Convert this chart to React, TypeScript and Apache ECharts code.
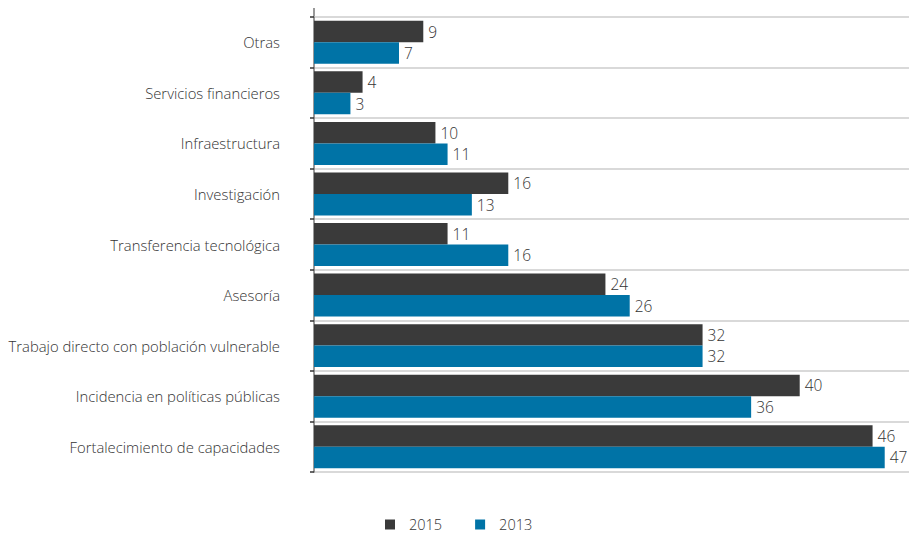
import React, { useEffect, useRef } from "react";
import * as echarts from "echarts";

const categories = [
  "Otras",
  "Servicios financieros",
  "Infraestructura",
  "Investigación",
  "Transferencia tecnológica",
  "Asesoría",
  "Trabajo directo con población vulnerable",
  "Incidencia en políticas públicas",
  "Fortalecimiento de capacidades",
];
const values2015 = [9, 4, 10, 16, 11, 24, 32, 40, 46];
const values2013 = [7, 3, 11, 13, 16, 26, 32, 36, 47];
const seriesNames = ["2015", "2013"];
const colors = ["#3a3a3a", "#0073a6"];

const FONT = "'Open Sans', sans-serif";

export default function App() {
  const ref = useRef<HTMLDivElement>(null);
  useEffect(() => {
    if (!ref.current) return;
    const chart = echarts.init(ref.current, undefined, { renderer: "svg" });
    chart.setOption({
      animation: false,
      backgroundColor: "#ffffff",
      textStyle: { fontFamily: FONT },
      grid: { left: 314, right: 2, top: 17, bottom: 63, containLabel: false },
      legend: {
        data: seriesNames,
        top: 517,
        left: 385,
        padding: 0,
        icon: "rect",
        itemWidth: 10,
        itemHeight: 10,
        itemGap: 33,
        textStyle: { fontFamily: FONT, fontSize: 14.5, fontWeight: 300, color: "#333", padding: [0, 0, 0, 9] },
      },
      xAxis: {
        type: "value",
        min: 0,
        max: 49,
        show: false,
        splitLine: { show: false },
      },
      yAxis: {
        type: "category",
        data: categories,
        inverse: true,
        axisLine: { show: true, lineStyle: { color: "#777", width: 1.5 } },
        axisTick: { show: true, length: 4, lineStyle: { color: "#333", width: 1.5 } },
        axisLabel: { margin: 34, fontFamily: FONT, fontSize: 14.8, fontWeight: 300, color: "#333" },
        splitLine: { show: true, lineStyle: { color: "#d9d9d9", width: 2 } },
      },
      series: [
        {
          name: seriesNames[0],
          type: "bar",
          data: values2015,
          barGap: "0%",
          barCategoryGap: "15%",
          itemStyle: { color: colors[0] },
          label: { show: true, position: "right", distance: 5, fontFamily: FONT, fontSize: 15.5, fontWeight: 300, color: "#333" },
        },
        {
          name: seriesNames[1],
          type: "bar",
          data: values2013,
          barGap: "0%",
          barCategoryGap: "15%",
          itemStyle: { color: colors[1] },
          label: { show: true, position: "right", distance: 5, fontFamily: FONT, fontSize: 15.5, fontWeight: 300, color: "#333" },
        },
      ],
      graphic: [
        {
          type: "line",
          shape: { x1: 314, y1: 8, x2: 314, y2: 17 },
          style: { stroke: "#777", lineWidth: 1.5 },
        },
      ],
    });
    return () => chart.dispose();
  }, []);
  return (
    <div
      ref={ref}
      style={{ position: "absolute", left: 0, top: 0, width: 911, height: 535 }}
    />
  );
}
